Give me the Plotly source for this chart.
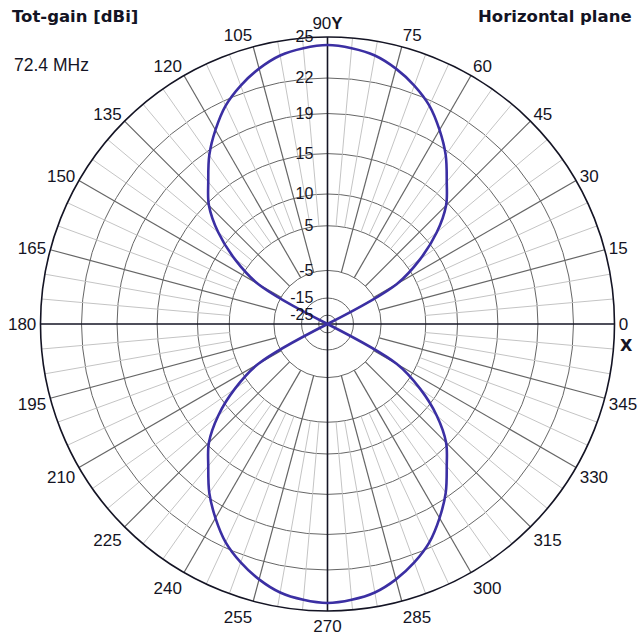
import numpy as np
import plotly.graph_objects as go

# Horizontal-plane total gain, sampled every 5 degrees (dBi)
angles_deg = list(range(0, 361, 5))
gain_dbi = [
    -45, -44, -42, -40, -38, -35, 1.5, 7.5, 11.7, 14.7, 16.6, 18.6, 20.2,
    21.6, 22.6, 23.4, 24.0, 24.3, 24.45,
    24.3, 24.0, 23.4, 22.6, 21.6, 20.2, 18.6, 16.6, 14.7, 11.7, 7.5, 1.5,
    -35, -38, -40, -42, -44, -45,
    -44, -42, -40, -38, -35, 1.5, 7.5, 11.7, 14.7, 16.6, 18.6, 20.2,
    21.6, 22.6, 23.4, 24.0, 24.3, 24.45,
    24.3, 24.0, 23.4, 22.6, 21.6, 20.2, 18.6, 16.6, 14.7, 11.7, 7.5, 1.5,
    -35, -38, -40, -42, -44, -45,
]

# Gain rings and their labels (dBi)
ring_labels_dbi = [25, 22, 19, 15, 10, 5, -5, -15, -25]
angle_ticks = list(range(0, 360, 15))
angle_ticktext = ["90<b>Y</b>" if a == 90 else str(a) for a in angle_ticks]

# Compressed log-style radial scale used by the pattern plot
K = 0.048
OFFSET = 0.205


def to_radius(db):
    return max(float(np.exp(K * db) - OFFSET), 0.0)


R_MAX = to_radius(max(ring_labels_dbi))
MAJOR_START = to_radius(-5)
MINOR_START = to_radius(5)

LABEL_FONT = "Liberation Sans, Arial, sans-serif"
TITLE_FONT = "DejaVu Sans, Verdana, sans-serif"
INK = "#141424"

fig = go.Figure()

# Fine 5-degree spokes
minor_r, minor_t = [], []
for a in range(5, 360, 5):
    if a % 15:
        minor_r += [MINOR_START, R_MAX, None]
        minor_t += [a, a, None]
fig.add_trace(go.Scatterpolar(r=minor_r, theta=minor_t, mode="lines",
                              line=dict(color="#c4c4c4", width=1),
                              hoverinfo="skip", showlegend=False))

# 15-degree spokes
major_r, major_t = [], []
for a in range(15, 360, 15):
    if a % 90:
        major_r += [MAJOR_START, R_MAX, None]
        major_t += [a, a, None]
fig.add_trace(go.Scatterpolar(r=major_r, theta=major_t, mode="lines",
                              line=dict(color="#666666", width=1.2),
                              hoverinfo="skip", showlegend=False))

# X and Y axes through the centre
fig.add_trace(go.Scatterpolar(r=[R_MAX, R_MAX, None, R_MAX, R_MAX],
                              theta=[0, 180, None, 90, 270], mode="lines",
                              line=dict(color=INK, width=1.6),
                              hoverinfo="skip", showlegend=False))

# Radiation pattern
fig.add_trace(go.Scatterpolar(r=[to_radius(g) for g in gain_dbi],
                              theta=angles_deg, mode="lines",
                              line=dict(color="#3b2fa3", width=2.6,
                                        shape="spline", smoothing=1.0),
                              showlegend=False))

fig.update_layout(
    width=640, height=641,
    margin=dict(l=0, r=0, t=0, b=0),
    paper_bgcolor="white",
    showlegend=False,
    polar=dict(
        domain=dict(x=[40.5 / 640, 614.5 / 640], y=[30 / 641, 604 / 641]),
        bgcolor="white",
        radialaxis=dict(
            range=[0, R_MAX],
            angle=90,
            side="counterclockwise",
            tickangle=90,
            tickvals=[to_radius(v) for v in ring_labels_dbi],
            ticktext=[str(v) for v in ring_labels_dbi],
            tickfont=dict(family=LABEL_FONT, size=16, color=INK),
            showline=False,
            ticks="outside",
            ticklen=8,
            tickcolor="rgba(0,0,0,0)",
            showgrid=True,
            gridcolor="#666666",
            gridwidth=1.1,
        ),
        angularaxis=dict(
            rotation=0,
            direction="counterclockwise",
            tickvals=angle_ticks,
            ticktext=angle_ticktext,
            tickfont=dict(family=LABEL_FONT, size=17, color=INK),
            ticks="",
            showgrid=False,
            showline=True,
            linecolor=INK,
            linewidth=1.6,
        ),
    ),
    annotations=[
        dict(text="<b>Tot-gain [dBi]</b>", x=10 / 640, y=1 - 16.5 / 641,
             xref="paper", yref="paper", xanchor="left", yanchor="middle",
             showarrow=False, font=dict(family=TITLE_FONT, size=16.5, color=INK)),
        dict(text="72.4 MHz", x=12 / 640, y=1 - 65 / 641,
             xref="paper", yref="paper", xanchor="left", yanchor="middle",
             showarrow=False, font=dict(family=LABEL_FONT, size=17.5, color=INK)),
        dict(text="<b>Horizontal plane</b>", x=634 / 640, y=1 - 16.5 / 641,
             xref="paper", yref="paper", xanchor="right", yanchor="middle",
             showarrow=False, font=dict(family=TITLE_FONT, size=16.5, color=INK)),
        dict(text="<b>X</b>", x=626 / 640, y=1 - 345 / 641,
             xref="paper", yref="paper", xanchor="center", yanchor="middle",
             showarrow=False, font=dict(family=TITLE_FONT, size=16, color=INK)),
    ],
)

fig.write_html("out.html")
